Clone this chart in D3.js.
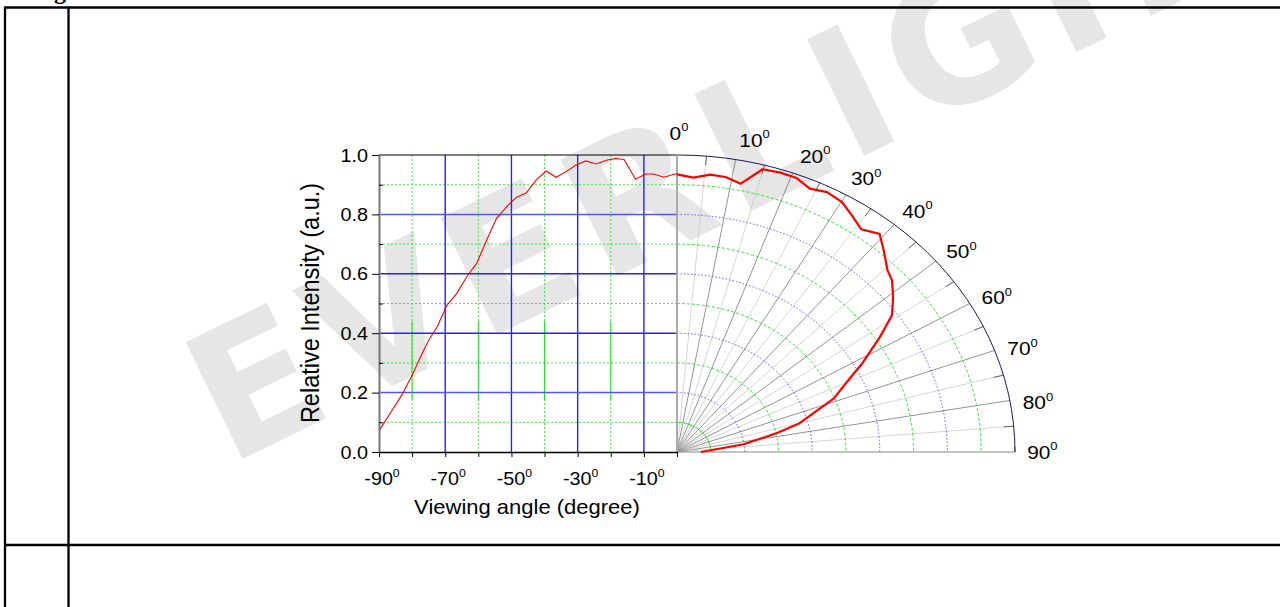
<!DOCTYPE html>
<meta charset="utf-8">
<script src="https://d3js.org/d3.v7.min.js"></script>
<style>
body { margin: 0; background: #fff; }
text { font-family: "Liberation Sans", Arial, sans-serif; fill: #000; }
</style>
<body>
<svg id="chart" width="1280" height="607"></svg>
<script>
// left half, drawn cartesian: viewing angle (deg) -> relative intensity
const leftAngles = [-90, -87, -83, -80, -77.5, -75, -72.5, -69.5, -66.5, -63.5, -60.5, -57.5, -54.5, -51, -48.5,
  -45.5, -42.5, -39.5, -36.5, -33.5, -30.5, -27.5, -24.5, -21, -18.5, -16, -12.5, -9.5, -7, -4, 0];
const leftValues = [0.071, 0.124, 0.194, 0.258, 0.32, 0.376, 0.42, 0.494, 0.534, 0.59, 0.635, 0.713, 0.787, 0.831, 0.857,
  0.873, 0.916, 0.946, 0.925, 0.944, 0.966, 0.980, 0.970, 0.983, 0.988, 0.985, 0.918, 0.936, 0.936, 0.925, 0.938];

// right half, drawn polar
const polarAngles = [0, 3, 6, 8.8, 11.8, 14.9, 18, 21, 23.9, 26.9, 30.1, 33, 36, 39.2, 42, 45.5, 47.7, 50.8,
  54.1, 57.2, 59.7, 61.5, 63.2, 68.8, 75.2, 77.8, 82.5, 90];
const polarValues = [0.935, 0.925, 0.939, 0.937, 0.923, 0.985, 0.989, 0.988, 0.970, 0.981, 0.973, 0.950, 0.927, 0.948,
  0.914, 0.873, 0.860, 0.825, 0.785, 0.714, 0.657, 0.623, 0.586, 0.497, 0.372, 0.303, 0.199, 0.071];

const yTicks = [0, 0.2, 0.4, 0.6, 0.8, 1.0];
const yMinor = [0.1, 0.3, 0.5, 0.7, 0.9];
const xTicks = [-90, -80, -70, -60, -50, -40, -30, -20, -10, 0];
const xLabels = [-90, -70, -50, -30, -10];
const blueX = [-70, -50, -30, -10];
const greenX = [-80, -60, -40, -20];
const polarLabels = [0, 10, 20, 30, 40, 50, 60, 70, 80, 90];
const spokeAngles = [5, 10, 15, 20, 25, 30, 35, 40, 45, 50, 55, 60, 65, 70, 75, 80, 85];
const ringsGreen = [0.1, 0.3, 0.5, 0.7, 0.9];
const ringsBlue = [0.2, 0.4, 0.6, 0.8];

const svg = d3.select('#chart');
const SX = 1.1; // the source picture is stretched a little horizontally

// watermark
svg.append('text')
  .attr('transform', 'translate(228,466) rotate(-26)')
  .style('font-family', '"DejaVu Sans", sans-serif')
  .style('font-weight', 'bold')
  .style('font-size', '178px')
  .style('letter-spacing', '12px')
  .style('fill', '#e6e6e6')
  .text('EVERLIGHT');

// table frame
svg.append('text').attr('x', 54).attr('y', -1)
  .style('font-family', '"Liberation Serif", serif').style('font-weight', 'bold').style('font-size', '24px')
  .text('g');
const frame = [[5, 7.5, 1280, 7.5], [5, 6.5, 5, 607], [68.5, 6.5, 68.5, 607], [5, 545, 1280, 545]];
svg.selectAll('.frame').data(frame).enter().append('line')
  .attr('x1', d => d[0]).attr('y1', d => d[1]).attr('x2', d => d[2]).attr('y2', d => d[3])
  .attr('stroke', '#000').attr('stroke-width', 2.3);

const x = d3.scaleLinear().domain([-90, 0]).range([379, 677]);
const y = d3.scaleLinear().domain([0, 1]).range([452, 155]);
const rx = d3.scaleLinear().domain([0, 1]).range([0, 338]);
const ry = d3.scaleLinear().domain([0, 1]).range([0, 297]);
const cx = x(0), cy = y(0);

function stext(px, py, size, anchor) {
  return svg.append('text')
    .attr('transform', 'translate(' + px + ',' + py + ') scale(' + SX + ',1)')
    .attr('text-anchor', anchor)
    .style('font-size', size + 'px');
}
function degLabel(t, n, size) {
  t.append('tspan').text(n);
  t.append('tspan').style('font-size', (size * 0.62) + 'px').attr('dy', -size * 0.45).text('0');
}

// ---- cartesian grid
const grid = svg.append('g');
grid.selectAll('.gx').data(greenX).enter().append('line')
  .attr('x1', d => x(d)).attr('x2', d => x(d)).attr('y1', y(1)).attr('y2', y(0))
  .attr('stroke', '#22dd22').attr('stroke-width', 0.8).attr('stroke-dasharray', '2,2');
grid.selectAll('.gs').data(greenX).enter().append('line')
  .attr('x1', d => x(d)).attr('x2', d => x(d)).attr('y1', y(0.44)).attr('y2', y(0.175))
  .attr('stroke', '#22dd22').attr('stroke-width', 1);
grid.selectAll('.gy').data(yMinor).enter().append('line')
  .attr('x1', x(-90)).attr('x2', x(0)).attr('y1', d => y(d)).attr('y2', d => y(d))
  .attr('stroke', '#22dd22').attr('stroke-width', 0.8).attr('stroke-dasharray', '2,2');
grid.selectAll('.bx').data(blueX).enter().append('line')
  .attr('x1', d => x(d)).attr('x2', d => x(d)).attr('y1', y(1)).attr('y2', y(0))
  .attr('stroke', '#2222ff').attr('stroke-width', 1.4);
grid.selectAll('.by').data(yTicks.slice(1, 5)).enter().append('line')
  .attr('x1', x(-90)).attr('x2', x(0)).attr('y1', d => y(d)).attr('y2', d => y(d))
  .attr('stroke', d => (d === 0.2 || d === 0.8) ? '#5555ff' : '#2222ff').attr('stroke-width', 1.5);
grid.append('line').attr('x1', x(-90)).attr('x2', x(0)).attr('y1', y(1)).attr('y2', y(1))
  .attr('stroke', '#000').attr('stroke-width', 1.2);

// ---- polar grid
const pol = svg.append('g');
function ring(r) {
  return 'M' + cx + ',' + (cy - ry(r)) + ' A' + rx(r) + ',' + ry(r) + ' 0 0 1 ' + (cx + rx(r)) + ',' + cy;
}
function pxy(a, r) {
  const t = a * Math.PI / 180;
  return [cx + rx(r) * Math.sin(t), cy - ry(r) * Math.cos(t)];
}
pol.selectAll('.sp').data(spokeAngles).enter().append('line')
  .attr('x1', cx).attr('y1', cy)
  .attr('x2', d => pxy(d, 1)[0]).attr('y2', d => pxy(d, 1)[1])
  .attr('stroke', d => d % 10 === 0 ? '#666' : '#c4c4c4')
  .attr('stroke-width', 0.7);
pol.selectAll('.tk').data(spokeAngles.filter(d => d % 10 !== 0)).enter().append('line')
  .attr('x1', d => pxy(d, 0.97)[0]).attr('y1', d => pxy(d, 0.97)[1])
  .attr('x2', d => pxy(d, 1)[0]).attr('y2', d => pxy(d, 1)[1])
  .attr('stroke', '#444').attr('stroke-width', 0.8);
pol.selectAll('.rg').data(ringsGreen).enter().append('path')
  .attr('d', ring).attr('fill', 'none')
  .attr('stroke', '#22dd22').attr('stroke-width', 0.9)
  .attr('stroke-dasharray', d => d === 0.1 ? null : '3,2');
pol.selectAll('.rb').data(ringsBlue).enter().append('path')
  .attr('d', ring).attr('fill', 'none')
  .attr('stroke', '#3333ff').attr('stroke-width', 0.8).attr('stroke-dasharray', '1.5,2');
pol.append('path').attr('d', ring(1)).attr('fill', 'none').attr('stroke', '#1a1a5c').attr('stroke-width', 1);
pol.append('line').attr('x1', cx).attr('x2', cx).attr('y1', cy).attr('y2', cy - ry(1))
  .attr('stroke', '#aaa').attr('stroke-width', 2);
pol.append('line').attr('x1', cx).attr('x2', cx + rx(1)).attr('y1', cy).attr('y2', cy)
  .attr('stroke', '#888').attr('stroke-width', 1.2);
pol.append('line').attr('x1', cx + rx(1)).attr('x2', cx + rx(1)).attr('y1', cy).attr('y2', cy - 5)
  .attr('stroke', '#444').attr('stroke-width', 1);

// ---- curves
svg.append('path')
  .datum(leftAngles.map((a, i) => [a, leftValues[i]]))
  .attr('fill', 'none').attr('stroke', '#ff0000').attr('stroke-width', 1.1)
  .attr('d', d3.line().x(d => x(d[0])).y(d => y(d[1])));
svg.append('path')
  .datum(polarAngles.map((a, i) => pxy(a, polarValues[i])))
  .attr('fill', 'none').attr('stroke', '#ff0000').attr('stroke-width', 2.2)
  .attr('stroke-linejoin', 'round')
  .attr('d', d3.line());

// ---- axes
const yAxis = svg.append('g').attr('transform', 'translate(' + x(-90) + ',0)')
  .call(d3.axisLeft(y).tickValues(yTicks).tickSize(7).tickSizeOuter(0).tickFormat(''));
yAxis.select('.domain').attr('stroke', '#777').attr('stroke-width', 2);
svg.append('g').attr('transform', 'translate(' + x(-90) + ',0)')
  .call(d3.axisRight(y).tickValues(yMinor).tickSize(4).tickSizeOuter(0).tickFormat(''))
  .select('.domain').remove();
const xAxis = svg.append('g').attr('transform', 'translate(0,' + y(0) + ')')
  .call(d3.axisBottom(x).tickValues(xTicks).tickSize(5).tickSizeOuter(0).tickFormat(''));
xAxis.select('.domain').attr('stroke', '#000').attr('stroke-width', 1.5);

yTicks.forEach(v => stext(368, y(v) + 6.5, 18, 'end').text(d3.format('.1f')(v)));
xLabels.forEach(v => degLabel(stext(x(v) + 3, 485, 18, 'middle'), v, 18));
polarLabels.forEach(a => {
  const nudge = (a === 0 || a === 90) ? 0 : (a <= 20 ? 2 : 1);
  const p = pxy(a + nudge, 1.075);
  degLabel(stext(p[0] + 2, p[1] + 7, 19, 'middle'), a, 19);
});

svg.append('text')
  .attr('transform', 'translate(319,303) scale(' + SX + ',1) rotate(-90)')
  .attr('text-anchor', 'middle').style('font-size', '23.5px')
  .text('Relative Intensity (a.u.)');
stext(527, 514, 20, 'middle').text('Viewing angle (degree)');
</script>
</body>
